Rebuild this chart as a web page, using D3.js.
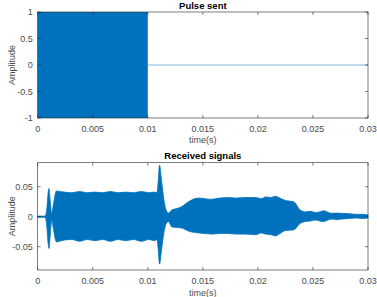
<!DOCTYPE html>
<html>
<head>
<meta charset="utf-8">
<script src="https://cdn.jsdelivr.net/npm/d3@7"></script>
<style>
  html, body { margin: 0; padding: 0; background: #fff; }
  svg { display: block; font-family: "Liberation Sans", Arial, sans-serif; }
</style>
</head>
<body>
<svg id="chart" width="377" height="297"></svg>
<script>
// pulse sent: envelope of the transmitted burst (time in s)
const pulseTime  = [0, 0.01, 0.01];
const pulseUpper = [1, 1, 0];
const pulseLower = [-1, -1, 0];
// flat part after the burst
const restTime  = [0.01, 0.03];
const restValue = [0, 0];

// received signal: envelope
const recvTime = [0, 0.00066, 0.00082, 0.00095, 0.00103, 0.00112, 0.00127, 0.00142, 0.0017,
  0.0024, 0.0031, 0.0038, 0.0045, 0.0052, 0.0059, 0.0066, 0.0073, 0.0080, 0.0087, 0.0094,
  0.0101, 0.0106, 0.01082, 0.01095, 0.01106, 0.01125, 0.01145, 0.01164, 0.01187, 0.01218,
  0.0127, 0.0131, 0.0137, 0.0146, 0.0152, 0.0158, 0.0165, 0.0173, 0.0180, 0.0188, 0.0198,
  0.0203, 0.0207, 0.0212, 0.0216, 0.0220, 0.0225, 0.02324, 0.02385, 0.0243, 0.0248, 0.0252,
  0.0256, 0.026, 0.0263, 0.0267, 0.0272, 0.0276, 0.0283, 0.0289, 0.0295, 0.03];
const recvUpper = [0.001, 0.001, 0.012, 0.040, 0.047, 0.030, 0.005, 0.020, 0.043,
  0.041, 0.040, 0.042, 0.040, 0.041, 0.040, 0.042, 0.040, 0.041, 0.040, 0.042,
  0.040, 0.041, 0.040, 0.060, 0.086, 0.060, 0.030, 0.012, 0.006, 0.011,
  0.014, 0.017, 0.025, 0.031, 0.030, 0.029, 0.031, 0.032, 0.031, 0.032, 0.032,
  0.030, 0.033, 0.032, 0.034, 0.031, 0.027, 0.025, 0.011, 0.008, 0.009, 0.007,
  0.008, 0.010, 0.008, 0.0056, 0.006, 0.0056, 0.005, 0.004, 0.004, 0.003];
const recvLower = [-0.001, -0.001, -0.015, -0.045, -0.053, -0.035, -0.006, -0.020, -0.042,
  -0.039, -0.038, -0.041, -0.038, -0.040, -0.038, -0.041, -0.038, -0.040, -0.038, -0.041,
  -0.038, -0.040, -0.038, -0.055, -0.079, -0.055, -0.028, -0.013, -0.008, -0.017,
  -0.018, -0.019, -0.024, -0.027, -0.028, -0.029, -0.028, -0.028, -0.029, -0.029, -0.030,
  -0.027, -0.029, -0.030, -0.032, -0.028, -0.023, -0.022, -0.011, -0.008, -0.007, -0.0055,
  -0.007, -0.008, -0.006, -0.004, -0.005, -0.004, -0.003, -0.002, -0.003, -0.002];

const xTicks = [0, 0.005, 0.01, 0.015, 0.02, 0.025, 0.03];
const xTickLabels = ['0', '0.005', '0.01', '0.015', '0.02', '0.025', '0.03'];
const topYTicks = [-1, -0.5, 0, 0.5, 1];
const topYTickLabels = ['-1', '-0.5', '0', '0.5', '1'];
const botYTicks = [-0.05, 0, 0.05];
const botYTickLabels = ['-0.05', '0', '0.05'];

const blue = '#0072BD';
const axisColor = '#262626';
const labelColor = '#4a4a4a';

const svg = d3.select('#chart');

function panel(opts) {
  const { top, bottom, yDomain, yTicks, yLabels, title, titleY, tickY, xlabelY } = opts;
  const left = 37.7, right = 368;
  const x = d3.scaleLinear().domain([0, 0.03]).range([left, right]);
  const y = d3.scaleLinear().domain(yDomain).range([bottom, top]);
  const g = svg.append('g');

  opts.draw(g, x, y);

  // box
  g.append('rect')
    .attr('x', left).attr('y', top)
    .attr('width', right - left).attr('height', bottom - top)
    .attr('fill', 'none').attr('stroke', axisColor).attr('stroke-width', 0.6);

  // inner ticks on all four sides
  const tl = 3;
  xTicks.forEach(t => {
    g.append('line').attr('x1', x(t)).attr('x2', x(t)).attr('y1', bottom).attr('y2', bottom - tl)
      .attr('stroke', axisColor).attr('stroke-width', 0.6);
    g.append('line').attr('x1', x(t)).attr('x2', x(t)).attr('y1', top).attr('y2', top + tl)
      .attr('stroke', axisColor).attr('stroke-width', 0.6);
  });
  yTicks.forEach(v => {
    g.append('line').attr('x1', left).attr('x2', left + tl).attr('y1', y(v)).attr('y2', y(v))
      .attr('stroke', axisColor).attr('stroke-width', 0.6);
    g.append('line').attr('x1', right).attr('x2', right - tl).attr('y1', y(v)).attr('y2', y(v))
      .attr('stroke', axisColor).attr('stroke-width', 0.6);
  });

  // tick labels
  g.selectAll('text.xt').data(xTicks).join('text')
    .attr('x', d => x(d)).attr('y', tickY)
    .attr('text-anchor', 'middle').attr('font-size', 9).attr('fill', labelColor)
    .text((d, i) => xTickLabels[i]);
  g.selectAll('text.yt').data(yTicks).join('text')
    .attr('x', left - 5).attr('y', d => y(d) + 3)
    .attr('text-anchor', 'end').attr('font-size', 9).attr('fill', labelColor)
    .text((d, i) => yLabels[i]);

  // labels + title
  g.append('text').attr('x', (left + right) / 2).attr('y', xlabelY)
    .attr('text-anchor', 'middle').attr('font-size', 9).attr('fill', labelColor).text('time(s)');
  g.append('text')
    .attr('transform', `translate(15,${(top + bottom) / 2}) rotate(-90)`)
    .attr('text-anchor', 'middle').attr('font-size', 9).attr('fill', labelColor).text('Amplitude');
  g.append('text').attr('x', (left + right) / 2).attr('y', titleY)
    .attr('text-anchor', 'middle').attr('font-size', 9.5).attr('font-weight', 'bold')
    .attr('fill', '#000').text(title);
}

// top: pulse sent
panel({
  top: 12, bottom: 118, yDomain: [-1, 1],
  yTicks: topYTicks, yLabels: topYTickLabels,
  title: 'Pulse sent', titleY: 9, tickY: 131.5, xlabelY: 143,
  draw(g, x, y) {
    const area = d3.area()
      .x((d, i) => x(pulseTime[i]))
      .y0((d, i) => y(pulseLower[i]))
      .y1((d, i) => y(pulseUpper[i]));
    g.append('path').datum(pulseTime).attr('d', area).attr('fill', blue);
    const line = d3.line()
      .x((d, i) => x(restTime[i]))
      .y((d, i) => y(restValue[i]));
    g.append('path').datum(restTime).attr('d', line)
      .attr('fill', 'none').attr('stroke', '#4a9ad4').attr('stroke-width', 0.7);
  }
});

// bottom: received signals
panel({
  top: 162.7, bottom: 270, yDomain: [-0.0888, 0.09],
  yTicks: botYTicks, yLabels: botYTickLabels,
  title: 'Received signals', titleY: 159, tickY: 283.5, xlabelY: 296,
  draw(g, x, y) {
    const area = d3.area()
      .curve(d3.curveMonotoneX)
      .x((d, i) => x(recvTime[i]))
      .y0((d, i) => y(recvLower[i]))
      .y1((d, i) => y(recvUpper[i]));
    g.append('path').datum(recvTime).attr('d', area)
      .attr('fill', blue).attr('stroke', blue).attr('stroke-width', 0.8);
  }
});
</script>
</body>
</html>
